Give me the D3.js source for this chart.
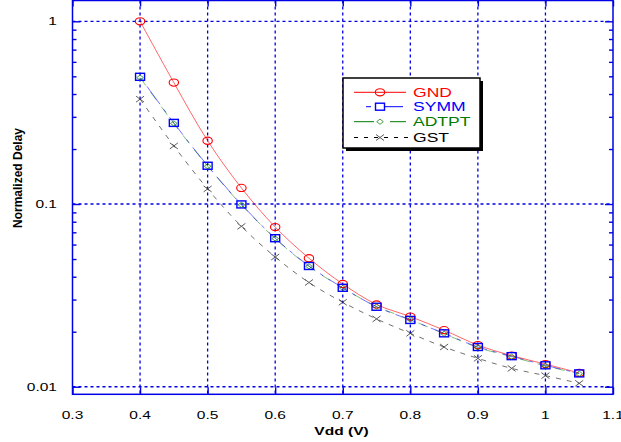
<!DOCTYPE html>
<html><head><meta charset="utf-8">
<script src="https://cdn.jsdelivr.net/npm/d3@7"></script>
<style>body{margin:0;background:#fff}svg{display:block}text{font-family:"Liberation Sans",Arial,sans-serif}</style>
</head><body>
<script>
const vdd   = [0.4,0.45,0.5,0.55,0.6,0.65,0.7,0.75,0.8,0.85,0.9,0.95,1.0,1.05];
const GND   = [1.0,0.462,0.222,0.1225,0.0748,0.0505,0.0365,0.0282,0.0242,0.0204,0.0169,0.0148,0.0133,0.0119];
const SYMM  = [0.497,0.278,0.162,0.0995,0.065,0.0458,0.0348,0.0274,0.0232,0.0196,0.0165,0.0147,0.0131,0.01183];
const ADTPT = [0.492,0.276,0.161,0.0990,0.0647,0.0456,0.0347,0.0275,0.0233,0.0195,0.0164,0.0146,0.0130,0.01178];
const GST   = [0.375,0.208,0.121,0.0755,0.0513,0.0372,0.029,0.0235,0.0196,0.0165,0.0143,0.0126,0.0115,0.01044];
const xTicks = [0.3,0.4,0.5,0.6,0.7,0.8,0.9,1.0,1.1];
const xTickLabels = ["0.3","0.4","0.5","0.6","0.7","0.8","0.9","1","1.1"];
const yTicks = [0.01,0.1,1];
const yTickLabels = ["0.01","0.1","1"];
const seriesNames = ["GND","SYMM","ADTPT","GST"];

const W=621,H=442, L=72.5,R=613,T=0.5,B=394.3;
const SX=1.35; // horizontal text stretch
const svg=d3.select("body").append("svg").attr("width",W).attr("height",H);
const x=d3.scaleLinear().domain([0.3,1.1]).range([L,R]);
const y=d3.scaleLog().domain([0.00909,1.3]).range([B,T]);
const axisCol="#0000e6";

// grid
const g=svg.append("g");
g.selectAll("line.vg").data(xTicks.filter(v=>v>0.31&&v<1.09)).join("line")
 .attr("x1",d=>x(d)).attr("x2",d=>x(d)).attr("y1",T).attr("y2",B)
 .attr("stroke",axisCol).attr("stroke-width",1.3).attr("stroke-dasharray","3,3");
g.selectAll("line.hg").data(yTicks).join("line")
 .attr("x1",L).attr("x2",R).attr("y1",d=>y(d)).attr("y2",d=>y(d))
 .attr("stroke",axisCol).attr("stroke-width",1.3).attr("stroke-dasharray","3,3");

// axes with inward ticks
const minor=[];
[0.001,0.01,0.1,1].forEach(dec=>{for(let k=2;k<=9;k++){const v=dec*k; if(v>0.00909&&v<1.3) minor.push(v);}});
const axL=d3.axisRight(y).tickValues(yTicks).tickSize(8).tickFormat("");
const axLm=d3.axisRight(y).tickValues(minor).tickSize(4).tickFormat("");
const axR=d3.axisLeft(y).tickValues(yTicks).tickSize(8).tickFormat("");
const axRm=d3.axisLeft(y).tickValues(minor).tickSize(4).tickFormat("");
const axB=d3.axisTop(x).tickValues(xTicks).tickSize(7).tickFormat("");
const axT=d3.axisBottom(x).tickValues(xTicks).tickSize(6).tickFormat("");
[[axL,`translate(${L},0)`],[axLm,`translate(${L},0)`],[axR,`translate(${R},0)`],[axRm,`translate(${R},0)`],[axB,`translate(0,${B})`],[axT,`translate(0,${T})`]]
.forEach(([a,t])=>{const s=svg.append("g").attr("transform",t).call(a);
  s.select(".domain").remove(); s.selectAll("line").attr("stroke",axisCol).attr("stroke-width",1.4);});
svg.append("rect").attr("x",L).attr("y",T).attr("width",R-L).attr("height",B-T)
 .attr("fill","none").attr("stroke",axisCol).attr("stroke-width",1.5);

function stext(px,py,str,anchor,opts={}){
  const t=svg.append("g").attr("transform",`translate(${px},${py}) scale(${opts.sx||SX},1)`)
   .append("text").attr("text-anchor",anchor).attr("font-size",opts.size||11.5)
   .attr("fill",opts.fill||"#000").attr("font-weight",opts.bold?"bold":"normal").text(str);
  return t;
}
xTicks.forEach((v,i)=>stext(x(v),418.5,xTickLabels[i],"middle"));
yTicks.forEach((v,i)=>stext(57,y(v)+4,yTickLabels[i],"end"));
stext(341.5,434.5,"Vdd (V)","middle",{bold:true,size:11.5});
svg.append("text").attr("transform","translate(22,178) rotate(-90)").attr("text-anchor","middle")
 .attr("font-size",12).attr("font-weight","bold").text("Normalized Delay");

// series
const styles={
 GND:{vals:GND,color:"#ff0000",dash:null,op:0.6,marker:"circle"},
 SYMM:{vals:SYMM,color:"#0000ff",dash:"22,6,4,6",op:0.55,marker:"square"},
 ADTPT:{vals:ADTPT,color:"#007a00",dash:"10,8",op:0.5,marker:"diamond"},
 GST:{vals:GST,color:"#333",dash:"5,6",op:0.7,marker:"cross"}
};
const clip=svg.append("clipPath").attr("id","c").append("rect").attr("x",L).attr("y",T).attr("width",R-L).attr("height",B-T);
const line=d3.line().x(d=>x(d[0])).y(d=>y(d[1])).curve(d3.curveCatmullRom);
function drawMarker(sel,type,cx,cy,color){
  if(type==="circle") sel.append("ellipse").attr("cx",cx).attr("cy",cy).attr("rx",4.7).attr("ry",3.6).attr("fill","none").attr("stroke",color).attr("stroke-width",1.1);
  if(type==="square") sel.append("rect").attr("x",cx-4.5).attr("y",cy-3.5).attr("width",9).attr("height",7).attr("fill","none").attr("stroke",color).attr("stroke-width",1.4);
  if(type==="diamond") sel.append("path").attr("d",`M${cx-3.3},${cy}L${cx},${cy-2.6}L${cx+3.3},${cy}L${cx},${cy+2.6}Z`).attr("fill","none").attr("stroke",color).attr("stroke-width",0.9).attr("opacity",0.8);
  if(type==="cross") sel.append("path").attr("d",`M${cx-4},${cy-3}L${cx+4},${cy+3}M${cx-4},${cy+3}L${cx+4},${cy-3}`).attr("stroke",color).attr("stroke-width",1).attr("opacity",0.8);
}
const order=["GST","ADTPT","SYMM","GND"];
order.forEach(n=>{const s=styles[n];
  svg.append("path").datum(vdd.map((v,i)=>[v,s.vals[i]])).attr("d",line).attr("fill","none")
   .attr("stroke",s.color).attr("stroke-width",1).attr("stroke-opacity",s.op)
   .attr("stroke-dasharray",s.dash).attr("stroke-dashoffset",n==="SYMM"?-12:0).attr("clip-path","url(#c)");
});
["GST","GND","SYMM","ADTPT"].forEach(n=>{const s=styles[n]; const gg=svg.append("g");
  vdd.forEach((v,i)=>drawMarker(gg,s.marker,x(v),y(s.vals[i]),s.color));});

// legend
const lg=svg.append("g");
lg.append("rect").attr("x",346).attr("y",81).attr("width",137).attr("height",70).attr("fill","#000");
lg.append("rect").attr("x",343).attr("y",78).attr("width",137).attr("height",70).attr("fill","#fff").attr("stroke","#000").attr("stroke-width",1.5);
const rowY=[92.3,106.7,121.7,137.5];
const legendDash={GND:null,SYMM:null,ADTPT:null,GST:"4,6"};
seriesNames.forEach((n,i)=>{const s=styles[n], yy=rowY[i];
  if(n==="GND"){lg.append("line").attr("x1",354).attr("x2",406).attr("y1",yy).attr("y2",yy).attr("stroke",s.color).attr("stroke-width",1);}
  if(n==="SYMM"){lg.append("line").attr("x1",366).attr("x2",371).attr("y1",yy).attr("y2",yy).attr("stroke",s.color);
                 lg.append("line").attr("x1",385).attr("x2",403).attr("y1",yy).attr("y2",yy).attr("stroke",s.color);}
  if(n==="ADTPT"){lg.append("line").attr("x1",354).attr("x2",374).attr("y1",yy).attr("y2",yy).attr("stroke",s.color);
                 lg.append("line").attr("x1",390).attr("x2",406).attr("y1",yy).attr("y2",yy).attr("stroke",s.color);}
  if(n==="GST"){lg.append("line").attr("x1",354).attr("x2",408).attr("y1",yy).attr("y2",yy).attr("stroke","#000").attr("stroke-dasharray","4,6");}
  drawMarker(lg,s.marker,380,yy,s.color);
  const tcol={GND:"#ff0000",SYMM:"#0000ff",ADTPT:"#007a00",GST:"#000"}[n];
  const t=lg.append("g").attr("transform",`translate(413,${yy+4.5}) scale(${SX},1)`).append("text")
   .attr("font-size",13).attr("fill",tcol).text(n);
});
</script>
</body></html>
